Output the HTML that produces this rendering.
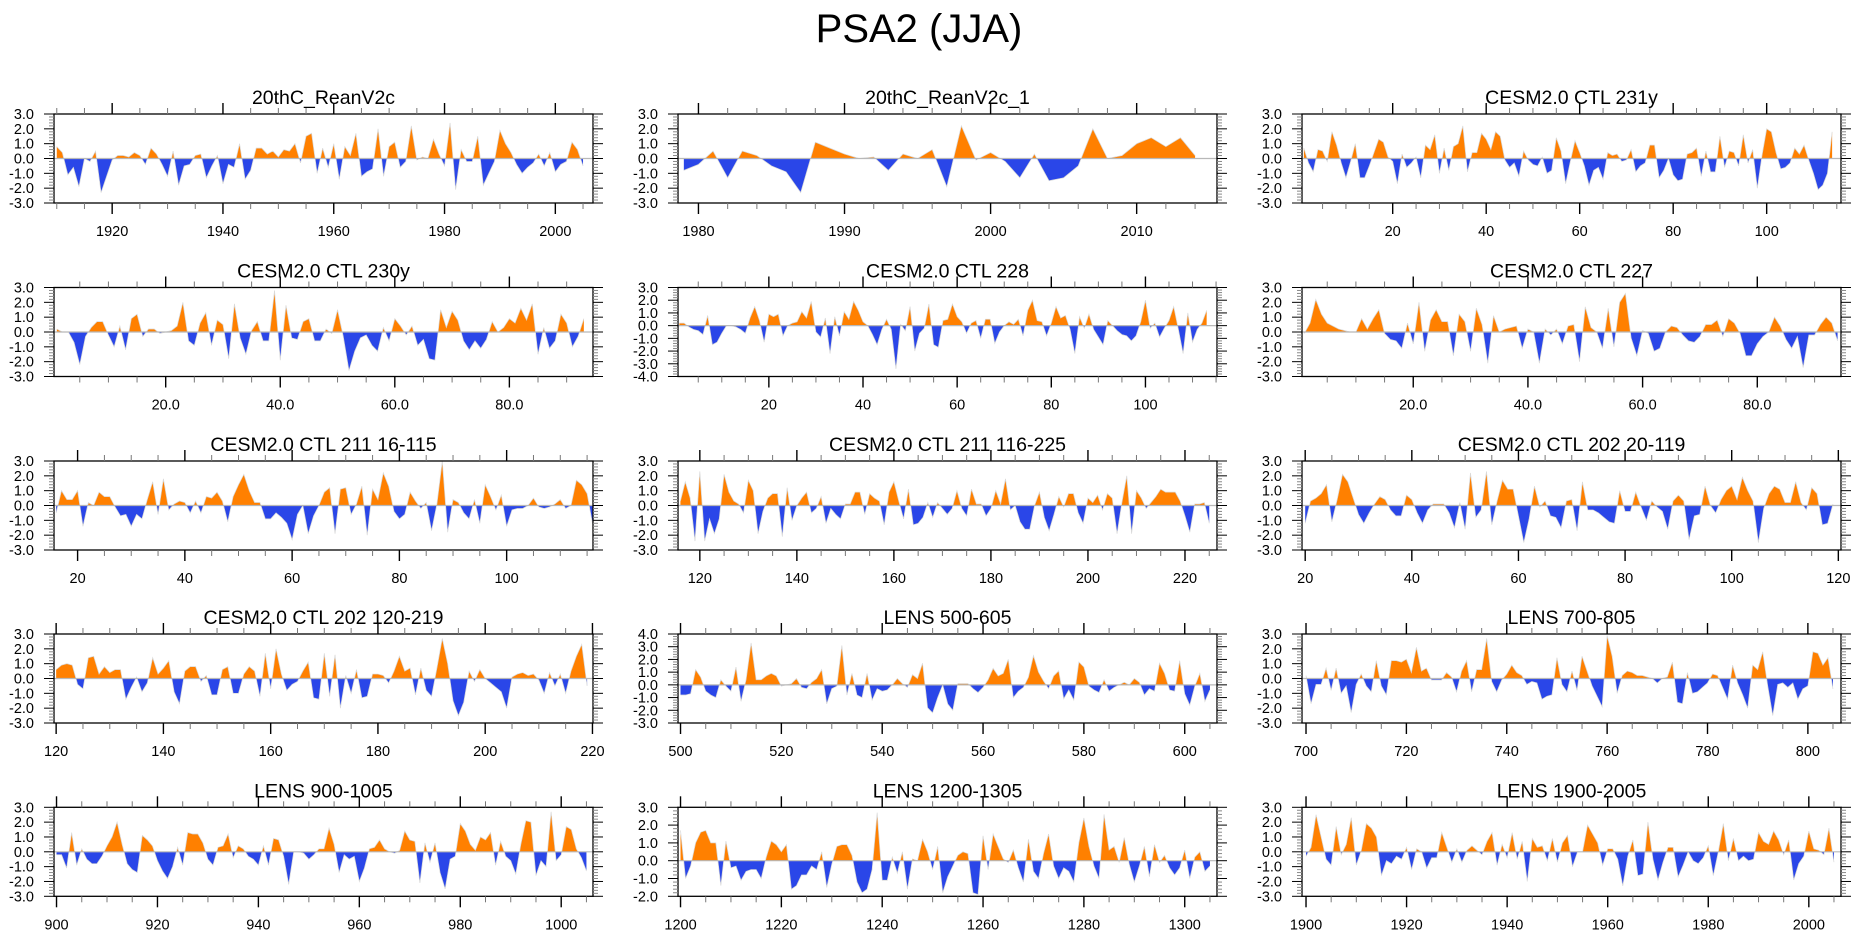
<!DOCTYPE html>
<html><head><meta charset="utf-8">
<style>
html,body{margin:0;padding:0;background:#fff;}
svg{display:block;font-family:"Liberation Sans",Arial,sans-serif;}
</style></head>
<body>
<svg id="chart" width="1861" height="937" viewBox="0 0 1861 937" xmlns="http://www.w3.org/2000/svg">
<rect width="1861" height="937" fill="#fff"/>
<text x="919" y="42" font-size="40" text-anchor="middle" fill="#000">PSA2 (JJA)</text>
</svg>
<script>
// ---- data ----
const p1Start = 1910;
const p1Values = [0.8,0.4,-1.1,-0.6,-1.9,0,-0.2,0.5,-2.3,-1.2,-0.1,0.2,0.2,0.1,0.4,0.2,-0.4,0.7,0.3,-0.4,-1.2,0.5,-1.8,-0.5,-0.4,0.2,0.3,-1.3,-0.5,0.2,-1.7,-0.4,-0.6,1.0,-1.4,-0.8,0.7,0.7,0.3,0.5,0.1,0.6,0.5,1.0,-0.3,1.5,1.7,-1.0,0.7,-0.6,1.0,-1.4,0.8,0.2,1.7,-1.2,-0.9,-0.7,2.0,-1.2,0.8,1.1,-0.6,-0.2,2.2,-0.1,0.1,0,1.3,0.3,-0.5,2.4,-2.1,0.6,-0.2,-0.2,1.5,-1.8,-1.0,-0.2,1.9,1.0,0.4,-0.4,-1.0,-0.6,-0.3,0.3,-0.5,0.4,-0.9,-0.4,-0.2,1.1,0.6,-0.5];
const p2Start = 1979;
const p2Values = [-0.8,-0.4,0.5,-1.3,0.5,0.2,-0.5,-0.9,-2.3,1.1,0.7,0.3,0.0,0.1,-0.8,0.3,0.0,0.6,-1.9,2.2,-0.1,0.4,-0.2,-1.3,0.3,-1.5,-1.3,-0.5,2.0,0.0,0.2,1.0,1.4,0.8,1.4,0.2];
const p3Start = 1;
const p3Values = [0.7,-0.3,-0.9,0.6,0.5,-0.2,1.8,0.9,-0.3,-1.3,-0.2,1.0,-1.3,-1.3,-0.5,0.4,1.3,1.1,0.1,-0.2,-1.7,0.3,-0.6,-0.3,0.1,-1.3,0.9,0.6,1.6,-1.0,0.7,-0.8,0.8,1.0,2.2,-0.9,0.4,0.4,1.7,1.3,0.6,1.8,1.5,-0.1,-0.6,-0.3,-1.2,0.5,-0.1,-0.4,-0.5,0.1,-1.0,-0.8,1.4,0.5,-1.7,-0.2,1.2,0.4,-0.5,-1.8,-0.8,-0.6,-1.4,0.4,0.2,0.3,-0.2,-0.1,0.6,-0.9,-0.5,-0.3,0.9,0.9,-1.3,-0.8,0,-1.1,-1.5,-1.4,0.3,0.4,0.7,-1.2,0.5,-0.9,-0.9,1.5,-0.6,0.5,0.4,-0.5,1.6,-0.3,0.6,-2.0,0.2,2.0,1.8,0.4,-0.7,-0.6,-0.3,0.7,0.3,0.9,-0.1,-1.0,-2.1,-1.8,-1.0,1.8];
const p4Start = 1;
const p4Values = [0.2,0,0,-0.7,-2.2,-0.3,0.3,0.7,0.7,-0.2,-1.0,0.4,-1.2,0.9,1.2,-0.3,0.2,0.2,-0.1,0,0.1,0.4,2.0,-0.6,-0.9,0.6,1.3,-0.9,0.8,0.5,-1.8,1.9,-0.4,-1.5,0.1,0.7,-0.6,-0.6,2.8,-1.9,1.8,-0.4,-0.5,0.7,0.9,-0.6,-0.6,0.2,-0.1,1.5,-0.3,-2.6,-1.3,-0.4,-0.2,-0.9,-1.3,0.3,-0.6,0.9,0.4,-0.2,0.4,-0.9,-0.5,-1.8,-1.9,1.5,0.3,1.4,0.8,-0.6,-1.2,-0.6,-1.1,-0.5,0.7,0,0.3,0.9,0.6,1.6,0.8,1.9,-1.5,0.3,-1.1,-0.6,1.2,0.6,-1.0,-0.3,0.9];
const p5Start = 1;
const p5Values = [0.2,0.2,-0.1,-0.3,-0.4,-0.7,0.8,-1.5,-1.3,-0.6,0,0,-0.1,-0.3,-0.6,0.6,1.5,0.4,-1.3,0.9,0.7,0.9,-0.8,0,0.2,0.3,1.1,0.6,1.9,-0.5,-0.9,0.6,-2.2,0.7,-0.8,1.1,0.5,1.9,1.2,0.3,0,-0.7,-1.5,-0.3,0.5,-0.3,-3.4,0.1,-0.4,1.5,-2.0,-0.6,-0.2,1.7,-1.5,-1.7,0.4,0.5,1.7,0.7,0.3,-0.6,0.2,0.4,-1.0,0.5,0.5,-1.4,-0.5,0,0.3,0.1,0.5,-0.8,1.2,2.0,0.4,0.3,-0.8,0.2,1.5,0.6,0.8,-0.3,-2.2,0.7,-0.2,0.9,-0.3,-0.9,-1.5,0.4,0,-0.4,-0.7,-0.8,-1.2,-0.8,0.3,2.0,-0.2,0.2,-0.9,-0.2,0.4,1.5,-0.3,-2.2,1.0,-1.3,-0.3,0.2,1.2];
const p6Start = 1;
const p6Values = [-0.1,0.6,2.2,1.2,0.6,0.4,0.2,0.1,0,0,0.9,0.2,0.9,1.5,-0.1,-0.5,-0.6,-1.1,0.6,-0.8,2.0,-1.3,0.8,1.5,0.7,0.7,-1.6,1.2,0.7,-1.3,1.6,0.5,-2.1,1.1,0,0.2,0.3,0.4,-1.1,0.2,0,-2.1,0.2,-0.2,0.2,-0.8,0.4,0.5,-2.0,1.7,0.3,0,-1.1,1.6,-1.0,2.0,2.6,-0.4,-1.6,0.1,-0.1,-1.3,-1.1,0,0.4,0.3,-0.2,-0.6,-0.7,-0.3,0.5,0.5,0.8,-0.3,0.9,0.6,-0.1,-1.6,-1.6,-0.8,-0.3,0,1.0,0.4,-0.5,-1.1,-0.3,-2.4,-0.2,-0.2,0.5,1.0,0.6,-0.6];
const p7Start = 16;
const p7Values = [-0.5,1.0,0.4,0.4,1.0,-1.4,0.2,0,0.9,0.6,0.6,-0.1,-0.7,-0.6,-1.4,-0.6,-0.9,0.4,1.6,-0.6,1.8,-0.3,0.1,0.3,0.2,-0.5,0.3,-0.5,0.6,0.5,0.9,0.3,-1.1,0.6,1.4,2.1,1.0,0.2,0.2,-0.9,-0.9,-0.5,-0.8,-1.2,-2.3,-0.6,0,-1.9,-0.7,0,0.9,1.2,-1.9,1.1,1.2,-0.6,0.1,1.3,-2.0,1.1,0.4,2.2,1.3,-0.4,-0.9,-0.6,0.9,0.3,-0.2,0.2,-1.7,0.1,3.0,-1.8,0.4,0.2,-0.5,-0.9,0.4,-1.2,1.4,0.6,-0.3,0.7,-1.4,-0.3,-0.2,-0.2,0,0.5,-0.1,-0.2,-0.1,0.1,0.4,-0.2,0,1.7,1.4,0.8,-1.2];
const p8Start = 116;
const p8Values = [0.3,1.6,0.5,-2.4,2.3,-2.4,-0.9,-1.9,-0.9,2.1,0.9,0.3,0.1,-0.5,1.7,1.0,-1.9,-0.4,0.5,0.8,0.8,-2.1,1.2,-1.0,0,0.5,0.9,-0.5,-0.2,0.6,-1.2,-0.2,-0.6,-0.9,0.1,0.1,0.9,0.9,-0.6,0.8,0.5,0.3,-1.3,0.9,1.6,0.3,-0.9,1.1,-1.3,-1.2,-0.8,0.2,-0.8,0.2,-0.2,-0.6,-0.2,1.0,-0.2,-0.7,1.1,0.1,0.1,-0.7,-0.2,1.0,0.1,1.8,-0.3,0,-1.1,-1.6,-1.6,0,0.9,-0.8,-1.7,-0.6,0.6,-0.1,0.8,0.8,-0.5,-1.2,0.5,0.2,0.7,-0.3,0.8,0.5,-1.9,0.2,2.0,-1.9,1.0,0.5,-0.2,0.2,0.6,1.1,0.9,0.9,0.9,0.3,-0.7,-1.8,0.1,0.1,0.2,-1.2];
const p9Start = 20;
const p9Values = [-1.2,0.3,0.5,0.8,1.4,-1.1,0.4,2.1,1.6,0.5,-0.6,-1.2,-0.5,0.1,0.6,0.4,-0.3,-0.7,-0.7,0.7,0.4,-0.5,-1.2,-0.3,0.1,0.1,0.1,-0.5,-1.5,0.2,-1.6,2.2,-0.8,-0.3,2.3,-1.3,0.3,1.7,1.1,1.1,-0.7,-2.5,-0.9,1.3,-0.1,0.3,-0.7,-0.8,-1.5,0.3,0.4,-1.7,1.6,-0.3,-0.3,-0.5,-0.8,-1.1,-1.2,1.0,-0.4,-0.4,0.9,-0.1,-1.0,0.3,-0.1,-0.4,-1.6,0.3,0.7,0.3,-2.3,-0.7,-0.6,1.3,0,-0.5,0.4,1.0,1.3,0.4,1.9,1.0,0.3,-2.5,-0.2,0.8,1.3,1.1,0.2,0.2,1.6,0.2,-0.3,1.2,0.8,-1.3,-1.2,0.1];
const p10Start = 120;
const p10Values = [0.6,0.9,1.0,0.9,-0.4,-0.7,1.4,1.5,0.3,0.8,0.4,0.6,0.6,-1.4,-0.6,0.1,-0.9,-0.3,1.4,0.3,0.7,1.2,-0.9,-1.7,0.5,0.8,0.8,-0.2,0.2,-1.1,-1.1,0.6,0.8,-1.0,-1.0,0.3,0.8,0.5,-1.2,1.7,-0.7,2.0,0.3,-0.8,-0.4,-0.2,0.5,1.1,-1.3,-1.4,1.7,-1.2,1.6,-2.0,0.2,-1.0,0.6,-1.3,-1.2,0.3,0.3,0.2,-0.3,0.5,1.5,0.5,0.7,-1.1,0.7,-0.8,-1.2,0.7,2.7,1.0,-1.5,-2.5,-1.6,0.5,-0.2,0.6,0,-0.3,-0.6,-0.9,-2.0,0.1,0.3,0.4,0.2,0.3,-0.1,-1.0,0.4,-0.5,0.3,-1.0,0.5,1.5,2.3,-0.5];
const p11Start = 500;
const p11Values = [-0.8,-0.8,-0.7,1.2,0.6,-0.5,-0.8,-1.0,0.4,-0.1,-0.5,1.4,-1.3,0.4,3.3,0.4,0.4,0.7,0.9,0.7,-0.1,0,0.1,0.5,-0.2,-0.3,0.2,0.5,1.2,-1.5,-0.3,-0.1,3.1,-0.8,0.9,-0.8,-1.0,0.9,-1.2,-0.3,-0.5,-0.4,0,0.5,0.1,-0.2,0.8,0.5,1.7,-1.8,-2.2,-1.0,0,-1.5,-2.0,0.1,0.1,0.1,-0.3,-0.6,-0.2,0.4,1.3,0.7,0.9,2.0,-1.0,-0.5,-0.2,0.6,2.3,1.0,0.3,-0.3,0.7,1.1,-1.1,-0.4,-1.2,1.8,1.4,-0.1,-0.4,-0.6,0.4,-0.5,-0.2,0,0.2,0,0.5,0.2,-0.8,-0.3,-0.5,1.7,0.9,-0.4,-0.5,1.9,-0.7,-1.6,-0.1,0.9,-1.3,-0.4];
const p12Start = 700;
const p12Values = [0.2,-1.7,-0.4,-0.4,0.7,-0.8,0.7,-1.0,-0.5,-2.3,-0.4,0.3,-0.5,-0.9,1.2,-0.5,-1.1,1.2,1.2,1.1,1.3,0.4,2.1,0.5,0.7,-0.1,-0.1,-0.1,0.4,0.1,-0.9,0.5,1.2,-0.9,0.6,0.6,2.7,-0.2,-0.9,-0.1,0.3,0.9,0.4,0.2,-0.4,-0.2,-0.3,-1.4,-1.2,-1.1,1.4,-0.4,-0.9,0.5,-0.8,1.5,0.5,-0.5,-1.2,-1.9,2.9,1.5,-1.0,0.2,0.5,0.4,0.2,0.2,0.1,0,-0.3,0,0.1,1.1,-1.6,-1.7,0.4,-1.0,-0.9,-0.6,-0.3,0.3,0.2,-0.6,-1.4,0.9,-0.3,-1.1,-2.0,0.9,0.6,1.8,-0.5,-2.5,-0.4,-0.3,-0.6,-0.3,-1.4,-0.7,-0.5,1.8,1.7,0.9,1.4,-0.7];
const p13Start = 900;
const p13Values = [-0.2,-0.2,-1.1,1.3,-0.9,0.2,-0.5,-0.8,-0.8,-0.3,0.4,1.0,2.0,0.5,-0.8,-1.2,-1.4,1.1,0.8,0.4,-0.6,-1.3,-1.8,-1.0,0.3,-0.9,1.3,1.2,1.2,0.6,-0.5,-0.9,0.3,0.4,1.2,-0.4,0.4,0.2,-0.3,-0.5,-0.9,0.4,-0.9,0.9,0.8,-0.3,-2.2,0,0,-0.1,-0.5,-0.2,0.2,0.2,1.6,0.5,-1.4,-0.2,-0.5,-0.3,-2.0,-1.1,0.2,0.3,0.8,0.2,0,-0.1,0.1,1.4,0.8,0.7,-2.1,0.6,-0.7,0.6,-1.4,-2.5,-0.5,-0.3,1.9,1.4,0.5,0.1,1.0,0.8,1.3,-0.9,0.7,-0.3,-0.6,-1.5,0.5,2.1,2.0,-1.6,-0.6,-1.0,2.7,-0.6,-0.2,1.7,1.5,0.2,-0.4,-1.3];
const p14Start = 1200;
const p14Values = [1.7,-1.0,-0.3,1.0,1.6,1.7,1.0,1.0,-1.4,1.1,-0.4,-0.3,-1.1,-0.6,-0.5,-0.5,-1.0,0.2,1.1,0.9,0.5,0.9,-1.6,-1.4,-0.8,-0.8,-0.3,-0.5,0.5,-1.5,-0.2,0.8,0.9,0.9,0.3,-1.2,-1.8,-1.6,-0.5,2.7,-1.1,-1.1,0.2,-0.7,0.5,-1.6,0.1,0,1.2,0.5,-0.5,0.8,-1.8,-0.9,-0.3,0.3,0.5,0.4,-1.8,-1.9,1.4,-0.5,1.5,0.8,0.1,-0.1,0.6,-0.4,-1.2,1.2,-0.6,-1.0,0.4,1.5,-0.3,-1.0,-0.4,-0.6,-1.2,1.0,2.4,0.8,-0.3,-1.0,2.6,0.6,0.8,-0.1,1.3,-0.2,-1.2,-0.3,0.8,-0.9,0.9,-0.1,0.3,-0.4,-0.8,-0.4,0.6,-1.0,0.2,0.5,-0.6,-0.3];
const p15Start = 1900;
const p15Values = [-0.3,0.3,2.5,1.0,-0.5,-0.9,1.7,-0.2,0.5,2.3,-0.9,0.1,1.9,1.6,1.0,-1.6,-0.6,-0.8,-0.3,-0.5,0.3,-1.2,0.2,0,-1.1,-0.4,-0.4,1.3,0.3,-0.7,0.2,-0.7,0.1,0.4,0.1,-0.2,0.7,1.3,-0.9,0.5,-0.4,1.3,-0.5,0.7,-2.0,0.9,0.3,0.4,-0.6,0.9,-0.7,0.6,1.1,-1.0,0,0,1.8,1.2,0.6,-0.9,0.2,0.2,-0.5,-2.3,-0.3,0.8,-1.6,-1.5,2.0,-0.5,-1.9,-0.7,0.3,0.3,-1.7,-0.9,0,-0.6,-0.8,-0.4,0.4,-1.6,0,1.9,-0.6,0.9,-0.6,-0.3,-0.6,-0.5,1.3,0.7,0.5,1.4,0.8,-0.2,0.8,-1.9,-0.8,-0.3,1.4,0.2,0.1,-0.2,1.6,-0.7];

// ---- tick label arrays ----
const ticksDecade20 = [1920,1940,1960,1980,2000];
const ticksReanV1 = [1980,1990,2000,2010];
const ticks20to100 = [20,40,60,80,100];
const ticks20to80 = [20,40,60,80];
const ticks20to120 = [20,40,60,80,100,120];
const ticks120to220 = [120,140,160,180,200,220];
const ticks500 = [500,520,540,560,580,600];
const ticks700 = [700,720,740,760,780,800];
const ticks900 = [900,920,940,960,980,1000];
const ticks1200 = [1200,1220,1240,1260,1280,1300];
const ticks1900 = [1900,1920,1940,1960,1980,2000];

const titles = ["20thC_ReanV2c","20thC_ReanV2c_1","CESM2.0 CTL 231y","CESM2.0 CTL 230y","CESM2.0 CTL 228","CESM2.0 CTL 227","CESM2.0 CTL 211 16-115","CESM2.0 CTL 211 116-225","CESM2.0 CTL 202 20-119","CESM2.0 CTL 202 120-219","LENS 500-605","LENS 700-805","LENS 900-1005","LENS 1200-1305","LENS 1900-2005"];

const panels = [
 {start:p1Start, vals:p1Values, x0:1909.5, x1:2006.8, y0:-3, y1:3, ticks:ticksDecade20, minor:5, fmt:0},
 {start:p2Start, vals:p2Values, x0:1978.6, x1:2015.5, y0:-3, y1:3, ticks:ticksReanV1, minor:2, fmt:0},
 {start:p3Start, vals:p3Values, x0:0.6, x1:115.9, y0:-3, y1:3, ticks:ticks20to100, minor:5, fmt:0},
 {start:p4Start, vals:p4Values, x0:0.5, x1:94.6, y0:-3, y1:3, ticks:ticks20to80, minor:5, fmt:1},
 {start:p5Start, vals:p5Values, x0:0.7, x1:115.2, y0:-4, y1:3, ticks:ticks20to100, minor:5, fmt:0},
 {start:p6Start, vals:p6Values, x0:0.6, x1:94.6, y0:-3, y1:3, ticks:ticks20to80, minor:5, fmt:1},
 {start:p7Start, vals:p7Values, x0:15.6, x1:116.1, y0:-3, y1:3, ticks:ticks20to100, minor:5, fmt:0},
 {start:p8Start, vals:p8Values, x0:115.5, x1:226.6, y0:-3, y1:3, ticks:ticks120to220, minor:5, fmt:0},
 {start:p9Start, vals:p9Values, x0:19.4, x1:120.5, y0:-3, y1:3, ticks:ticks20to120, minor:5, fmt:0},
 {start:p10Start, vals:p10Values, x0:119.6, x1:220.1, y0:-3, y1:3, ticks:ticks120to220, minor:5, fmt:0},
 {start:p11Start, vals:p11Values, x0:499.5, x1:606.4, y0:-3, y1:4, ticks:ticks500, minor:5, fmt:0},
 {start:p12Start, vals:p12Values, x0:699.2, x1:806.6, y0:-3, y1:3, ticks:ticks700, minor:5, fmt:0},
 {start:p13Start, vals:p13Values, x0:899.5, x1:1006.3, y0:-3, y1:3, ticks:ticks900, minor:5, fmt:0},
 {start:p14Start, vals:p14Values, x0:1199.5, x1:1306.4, y0:-2, y1:3, ticks:ticks1200, minor:5, fmt:0},
 {start:p15Start, vals:p15Values, x0:1899.2, x1:2006.4, y0:-3, y1:3, ticks:ticks1900, minor:5, fmt:0}
];

const NS = "http://www.w3.org/2000/svg";
const svg = document.getElementById('chart');
const colLeft = [54, 678, 1302];
const rowTop = [114, 287.5, 461, 634, 807.3];
const PW = 539, PH = 89;

function mk(tag, attrs, parent){
  const e = document.createElementNS(NS, tag);
  for (const k in attrs) e.setAttribute(k, attrs[k]);
  (parent||svg).appendChild(e);
  return e;
}

panels.forEach((p, idx) => {
  const L = colLeft[idx % 3], T = rowTop[Math.floor(idx / 3)];
  const R = L + PW, B = T + PH;
  const xs = v => L + (v - p.x0) / (p.x1 - p.x0) * PW;
  const ys = v => B - (v - p.y0) / (p.y1 - p.y0) * PH;

  const g = mk('g', {});
  
  

  const t = mk('text', {x: L + PW / 2, y: T - 10, 'font-size': 19.5, 'text-anchor': 'middle', fill: '#000'}, g);
  t.textContent = titles[idx];
  
  

  const cid = 'clip' + idx;
  const cp = mk('clipPath', {id: cid}, g);
  mk('rect', {x: L, y: T, width: PW, height: PH}, cp);

  // densify with zero crossings
  const pts = [];
  for (let i = 0; i < p.vals.length; i++) {
    const xv = p.start + i, v = p.vals[i];
    if (i > 0) {
      const pv = p.vals[i - 1];
      if ((pv > 0 && v < 0) || (pv < 0 && v > 0)) {
        const f = pv / (pv - v);
        pts.push([xv - 1 + f, 0]);
      }
    }
    pts.push([xv, v]);
  }
  const x0p = xs(pts[0][0]), x1p = xs(pts[pts.length - 1][0]), y0p = ys(0);
  let pos = 'M' + x0p + ',' + y0p, neg = 'M' + x0p + ',' + y0p, line = '';
  pts.forEach((q, i) => {
    const X = xs(q[0]);
    pos += 'L' + X + ',' + ys(Math.max(q[1], 0));
    neg += 'L' + X + ',' + ys(Math.min(q[1], 0));
    line += (i ? 'L' : 'M') + X + ',' + ys(q[1]);
  });
  pos += 'L' + x1p + ',' + y0p + 'Z';
  neg += 'L' + x1p + ',' + y0p + 'Z';
  const gc = mk('g', {'clip-path': 'url(#' + cid + ')'}, g);
  const pp = mk('path', {d: pos, fill: '#FF8000'}, gc);
  
  
  const np = mk('path', {d: neg, fill: '#2A46E8'}, gc);
  
  
  mk('path', {d: line, fill: 'none', stroke: '#d8d8d8', 'stroke-width': 0.7}, gc);
  const zl = mk('line', {x1: L, x2: R, y1: y0p, y2: y0p, stroke: '#b8b8b8', 'stroke-width': 1.2}, gc);
  
  

  // frame
  const fr = mk('rect', {x: L, y: T, width: PW, height: PH, fill: 'none', stroke: '#000', 'stroke-width': 1.3}, g);
  
  

  // y ticks
  for (let v = p.y0; v <= p.y1 + 1e-9; v = Math.round((v + 0.2) * 10) / 10) {
    const Y = ys(v);
    const major = Math.abs(v - Math.round(v)) < 1e-6;
    const len = major ? 10 : 5;
    mk('line', {x1: L - len, x2: L, y1: Y, y2: Y, stroke: major ? '#000' : '#888', 'stroke-width': 1}, g);
    mk('line', {x1: R, x2: R + len, y1: Y, y2: Y, stroke: major ? '#000' : '#888', 'stroke-width': 1}, g);
    if (major) {
      const yl = mk('text', {x: L - 20, y: Y + 5, 'font-size': 14.5, 'text-anchor': 'end', fill: '#000'}, g);
      yl.textContent = Math.round(v).toFixed(1);
      
      
    }
  }
  // x ticks
  const firstMinor = Math.ceil(p.x0 / p.minor) * p.minor;
  for (let v = firstMinor; v <= p.x1; v += p.minor) {
    const X = xs(v);
    const major = p.ticks.indexOf(v) >= 0;
    const len = major ? 11 : 6;
    mk('line', {x1: X, x2: X, y1: T - len, y2: T, stroke: major ? '#000' : '#777', 'stroke-width': major ? 1.4 : 1}, g);
    mk('line', {x1: X, x2: X, y1: B, y2: B + len, stroke: major ? '#000' : '#777', 'stroke-width': major ? 1.4 : 1}, g);
  }
  p.ticks.forEach(v => {
    const xl = mk('text', {x: xs(v), y: B + 33, 'font-size': 14.5, 'text-anchor': 'middle', fill: '#000'}, g);
    xl.textContent = p.fmt ? v.toFixed(1) : String(v);
    
    
  });
});
</script>
</body></html>
